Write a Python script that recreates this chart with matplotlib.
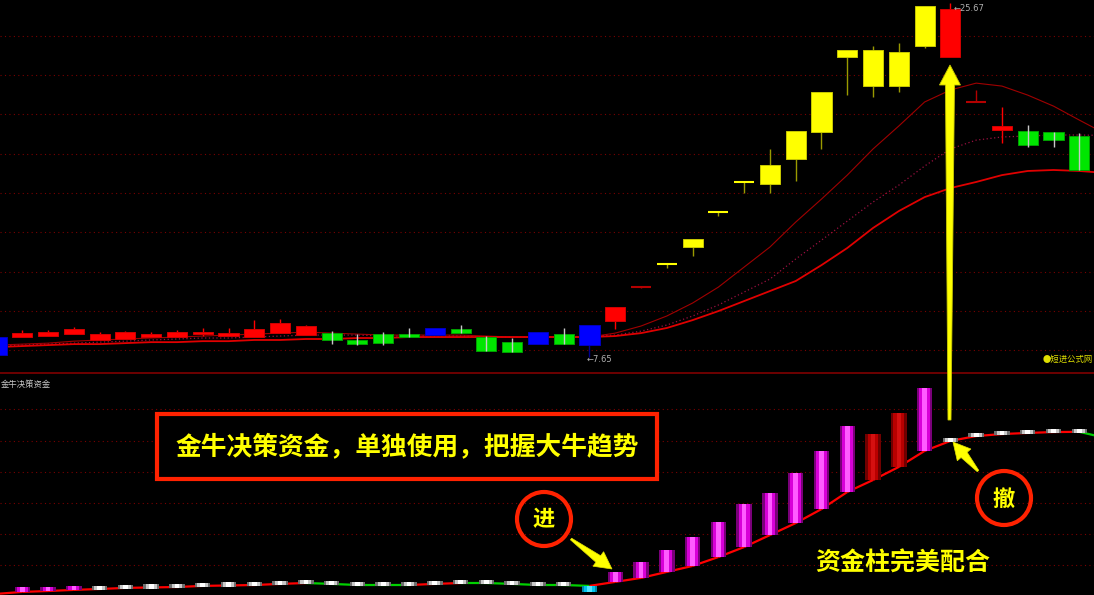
import numpy as np
import matplotlib
matplotlib.use("Agg")
import matplotlib.pyplot as plt
from matplotlib.patches import Rectangle, Circle, Polygon
from matplotlib.collections import LineCollection

plt.rcParams['font.family'] = ['Noto Sans CJK SC', 'DejaVu Sans']

# ---- price panel data (one entry per bar) ----
opens = [8.67, 8.67, 8.72, 8.82, 8.52, 8.57, 8.67, 8.67, 8.82, 8.72,
         8.67, 8.87, 8.77, 8.87, 8.52, 8.82, 8.82, 9.13, 9.07, 8.67,
         8.41, 8.92, 8.82, 9.28, 9.48, 11.21, 12.38, 13.25, 15.03, 16.56,
         16.45, 17.73, 19.10, 22.92, 21.44, 21.44, 23.48, 22.92, 20.63, 19.20,
         19.15, 19.10, 18.90]
closes = [7.75, 8.87, 8.92, 9.07, 8.82, 8.92, 8.82, 8.92, 8.92, 8.87,
          9.07, 9.38, 9.23, 8.52, 8.31, 8.36, 8.67, 8.77, 8.87, 7.96,
          7.90, 8.31, 8.31, 8.26, 10.19, 11.21, 12.38, 13.66, 15.03, 16.56,
          17.42, 19.15, 21.14, 23.27, 23.27, 23.17, 25.51, 25.36, 20.63, 19.41,
          18.44, 18.69, 17.17]
highs = [8.67, 9.02, 9.02, 9.18, 8.92, 8.97, 8.92, 9.02, 9.13, 9.13,
         9.53, 9.58, 9.28, 8.97, 8.82, 8.92, 9.13, 9.13, 9.28, 8.72,
         8.62, 8.92, 9.13, 9.28, 10.19, 11.21, 12.38, 13.66, 15.03, 16.56,
         18.24, 19.15, 21.14, 23.27, 23.48, 23.63, 25.51, 25.67, 21.24, 20.37,
         19.46, 19.10, 19.05]
lows = [7.75, 8.67, 8.72, 8.82, 8.52, 8.57, 8.67, 8.67, 8.72, 8.72,
        8.67, 8.87, 8.77, 8.31, 8.26, 8.26, 8.67, 8.77, 8.87, 7.96,
        7.90, 8.31, 8.31, 7.65, 9.07, 11.16, 12.18, 12.79, 14.83, 16.00,
        16.00, 16.61, 18.24, 20.98, 20.88, 21.14, 23.38, 22.92, 20.63, 18.54,
        18.34, 18.34, 17.17]
# b=blue, r=red, g=green, y=yellow, d=dark red
candle_kind = "brrrrrrrrrrrrggggbgggbgbrdyyyyyyyyyyyrdrggg"

# moving averages (last value lies just past the right edge)
ma_fast = [8.26, 8.31, 8.36, 8.46, 8.52, 8.57, 8.62, 8.67, 8.72, 8.77,
           8.82, 8.87, 8.92, 8.87, 8.82, 8.77, 8.77, 8.77, 8.77, 8.72,
           8.67, 8.67, 8.67, 8.67, 8.87, 9.23, 9.74, 10.40, 11.21, 12.23,
           13.25, 14.52, 15.69, 16.91, 18.24, 19.41, 20.63, 21.24, 21.59, 21.44,
           20.98, 20.42, 19.71, 19.02]
ma_mid = [8.21, 8.26, 8.31, 8.36, 8.41, 8.46, 8.52, 8.57, 8.62, 8.62,
          8.67, 8.72, 8.77, 8.77, 8.77, 8.72, 8.72, 8.72, 8.72, 8.67,
          8.67, 8.67, 8.67, 8.72, 8.77, 8.97, 9.28, 9.74, 10.30, 10.96,
          11.62, 12.64, 13.60, 14.57, 15.54, 16.40, 17.37, 18.24, 18.69, 18.85,
          18.90, 18.95, 18.95, 18.93]
ma_slow = [8.16, 8.21, 8.26, 8.31, 8.31, 8.36, 8.41, 8.41, 8.46, 8.46,
           8.52, 8.52, 8.57, 8.57, 8.62, 8.62, 8.67, 8.67, 8.67, 8.67,
           8.67, 8.67, 8.67, 8.67, 8.72, 8.87, 9.13, 9.53, 9.99, 10.50,
           11.01, 11.52, 12.33, 13.20, 14.22, 15.08, 15.79, 16.25, 16.56, 16.91,
           17.12, 17.17, 17.12, 17.02]

# ---- fund indicator panel ----
fund_line = [0.5, 1.4, 1.8, 2.3, 2.7, 3.2, 3.4, 3.6, 4.1, 4.3,
             4.5, 5.0, 5.4, 5.0, 4.5, 4.5, 4.5, 5.0, 5.4, 5.4,
             5.0, 4.5, 4.5, 4.1, 5.9, 7.7, 10.4, 13.1, 17.1, 21.6,
             27.0, 32.4, 38.7, 46.4, 51.8, 57.7, 64.9, 69.4, 71.6, 72.5,
             73.0, 73.4, 73.5, 70.8]
nan = np.nan
fund_top = [nan, 3.6, 3.8, 4.1] + [nan] * 19 + [1.4,
            10.4, 14.9, 20.3, 26.1, 32.9, 41.0, 45.9, 55.0, 64.9, 76.1,
            72.5, 82.0, 93.2] + [nan] * 6
# m=magenta, r=dark red, w=white dash, c=cyan, -=none
bar_kind = "-mmm" + "w" * 19 + "c" + "m" * 10 + "rr" + "m" + "w" * 6

body_col = {'r': '#FF0000', 'g': '#00E600', 'b': '#0000FF', 'y': '#FFFF00', 'd': '#B40000'}
edge_col = {'r': '#D00000', 'g': '#00A000', 'b': '#0000C0', 'y': '#C8C800', 'd': '#B40000'}
wick_col = {'r': '#FF0000', 'g': '#C8C8C8', 'b': '#000090', 'y': '#9A9A00', 'd': '#B40000'}
bar_layers = {'m': ['#7A007A', '#D800D8', '#FF5CFF'],
              'r': ['#700000', '#B80000', '#D41010'],
              'w': ['#707070', '#C8C8C8', '#FFFFFF'],
              'c': ['#0088AA', '#00C4EE', '#50E4FF']}

W, H = 1094, 595
fig = plt.figure(figsize=(W / 100, H / 100), dpi=100, facecolor='black')
split = 222 / H
ax = fig.add_axes([0, split, 1, 1 - split])
ax2 = fig.add_axes([0, 0, 1, split])
xlim = (0.136, 42.57)
for a in (ax, ax2):
    a.set_facecolor('black')
    a.set_xlim(*xlim)
    a.axis('off')
ax.set_ylim(6.84, 25.82)
ax2.set_ylim(0, 100)

grid_kw = dict(color='#7A0000', lw=0.8, linestyle=(0, (1, 3)), zorder=0)
for g in np.arange(8, 25, 2):
    ax.axhline(g, **grid_kw)
for g in [13.5, 27.5, 41.4, 55.4, 69.4, 83.8]:
    ax2.axhline(g, **grid_kw)

x = np.arange(len(opens))
xm = np.arange(len(ma_fast))

ax.plot(xm, ma_fast, color='#A00000', lw=0.8, zorder=1)
ax.plot(xm, ma_mid, color='#9A1040', lw=0.9, linestyle=(0, (1, 2)), zorder=1)
ax.plot(xm, ma_slow, color='#E00000', lw=1.3, zorder=1)

# candles
for i in x:
    k = candle_kind[i]
    ax.vlines(i, lows[i], highs[i], color=wick_col[k], lw=1,
              zorder=4 if k == 'g' else 2)
    lo, hi = min(opens[i], closes[i]), max(opens[i], closes[i])
    if hi - lo < 0.08:
        ax.hlines(closes[i], i - 0.39, i + 0.39, color=body_col[k], lw=1.5, zorder=3)
    else:
        ax.bar(i, hi - lo, bottom=lo, width=0.78, color=body_col[k],
               edgecolor=edge_col[k], lw=0.7, zorder=3)

ax.annotate('\u219025.67', xy=(37, highs[37]), xytext=(2, -4), textcoords='offset points',
            color='#B0B0B0', fontsize=6, family='DejaVu Sans', va='center')
ax.annotate('\u21907.65', xy=(23, lows[23]), xytext=(-2, -2), textcoords='offset points',
            color='#B0B0B0', fontsize=6, family='DejaVu Sans', va='center')
ax.text(0.999, 0.035, '\u25cf短进公式网', transform=ax.transAxes, color='#E0E000',
        fontsize=6, va='center', ha='right')

# fund line, coloured by direction
fx = np.arange(len(fund_line))
pts = np.column_stack([fx, fund_line])
segs = np.stack([pts[:-1], pts[1:]], axis=1)
seg_cols = ['#00D000' if fund_line[i + 1] <= fund_line[i] else '#FF0000'
            for i in range(len(fund_line) - 1)]
ax2.add_collection(LineCollection(segs, colors=seg_cols, linewidths=1.6, zorder=2))


def layered_bar(axis, xc, bottom, height, cols):
    for w, c in zip([0.6, 0.42, 0.18], cols):
        axis.bar(xc, height, bottom=bottom, width=w, color=c, lw=0, zorder=3)


for i, k in enumerate(bar_kind):
    if k in 'mr':
        layered_bar(ax2, i, fund_line[i], fund_top[i] - fund_line[i], bar_layers[k])
    elif k == 'c':
        layered_bar(ax2, i, fund_top[i], fund_line[i] - fund_top[i], bar_layers[k])
    elif k == 'w':
        layered_bar(ax2, i, fund_line[i] - 0.5, 1.9, bar_layers[k])

ax2.text(0.001, 0.97, '金牛决策资金', transform=ax2.transAxes, color='#C8C8C8',
         fontsize=6, va='top', ha='left')

# ---- overlay annotations in pixel space ----
ov = fig.add_axes([0, 0, 1, 1])
ov.set_xlim(0, W)
ov.set_ylim(H, 0)
ov.axis('off')
ov.patch.set_alpha(0)

ov.axhline(373, color='#800000', lw=1.2)


def arrow_poly(x0, y0, x1, y1, w0, w1, hw, hl, **kw):
    d = np.array([x1 - x0, y1 - y0], float)
    u = d / np.hypot(*d)
    n = np.array([-u[1], u[0]])
    p0 = np.array([x0, y0], float)
    tip = np.array([x1, y1], float)
    base = tip - u * hl
    poly = [p0 + n * w0 / 2, base + n * w1 / 2, base + n * hw / 2, tip,
            base - n * hw / 2, base - n * w1 / 2, p0 - n * w0 / 2]
    ov.add_patch(Polygon(poly, closed=True, **kw))


arrow_poly(949.5, 420, 950, 65, 3, 9, 21, 20, fc='#FFFF00', ec='#C8C800', lw=0.6, zorder=6)
arrow_poly(571, 539, 612, 569, 2, 8, 18, 17, fc='#FFFF00', ec='#E0E000', lw=0.5, zorder=6)
arrow_poly(978, 471, 953, 442, 2, 8, 18, 17, fc='#FFFF00', ec='#E0E000', lw=0.5, zorder=6)

ov.add_patch(Rectangle((157, 414), 500, 65, fc='black', ec='#FF2200', lw=3, zorder=5))
ov.text(407, 447, '金牛决策资金，单独使用，把握大牛趋势', color='#FFFF00', fontsize=18.5,
        fontweight='bold', ha='center', va='center', zorder=6)
ov.text(903, 564, '资金柱完美配合', color='#FFFF00', fontsize=18,
        fontweight='bold', ha='center', va='center', zorder=6)

for cx, cy, ch in [(544, 519, '进'), (1004, 498, '撤')]:
    ov.add_patch(Circle((cx, cy), 27, fill=False, ec='#FF2200', lw=3, zorder=6))
    ov.text(cx, cy + 1, ch, color='#FFFF00', fontsize=16, fontweight='bold',
            ha='center', va='center', zorder=7)

fig.savefig('out.png', dpi=100, facecolor='black')
